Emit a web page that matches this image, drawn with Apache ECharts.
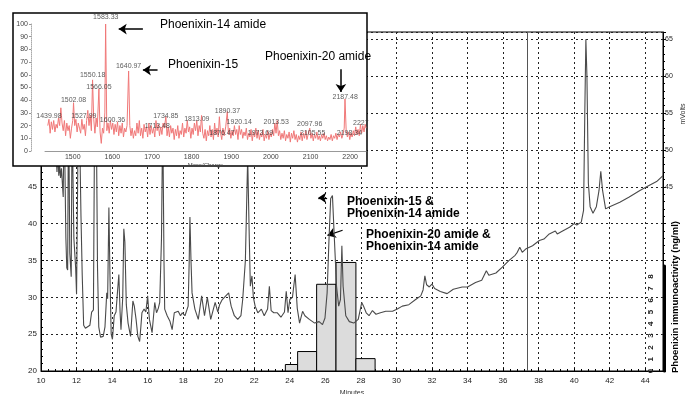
<!DOCTYPE html>
<html><head><meta charset="utf-8">
<script src="https://cdn.jsdelivr.net/npm/echarts@6/dist/echarts.min.js"></script>
<style>html,body{margin:0;padding:0;background:#fff}#c{width:688px;height:394px}</style>
</head><body><div id="c"></div>
<script>
// ---- Main chromatogram (minutes, mVolts) ----
const chromTime = [10.0,10.5,10.8,10.9,10.95,11.0,11.05,11.1,11.15,11.25,11.3,11.4,11.45,11.5,11.55,11.62,11.7,11.75,11.85,11.95,
12.0,12.08,12.15,12.25,12.32,12.4,12.5,12.6,12.75,12.85,12.95,13.02,13.1,13.18,13.25,13.35,13.5,13.6,13.7,13.75,13.82,13.88,13.95,
14.02,14.12,14.22,14.3,14.38,14.45,14.5,14.6,14.66,14.72,14.8,14.9,15.04,15.17,15.25,15.35,15.45,15.55,15.62,15.68,15.8,15.9,
16.0,16.1,16.25,16.4,16.5,16.6,16.68,16.78,16.85,16.92,16.96,17.1,17.25,17.38,17.5,17.6,17.72,17.85,17.95,18.1,18.28,18.34,18.38,
18.44,18.5,18.66,18.85,19.04,19.2,19.36,19.55,19.8,19.95,20.05,20.2,20.4,20.56,20.7,20.88,21.07,21.25,21.35,21.5,21.63,21.72,
21.78,21.87,21.95,22.05,22.2,22.4,22.56,22.75,22.85,22.95,23.1,23.3,23.5,23.7,23.8,23.9,24.0,24.15,24.3,24.42,24.55,24.72,24.85,
25.1,25.4,25.65,25.84,25.98,26.1,26.2,26.3,26.4,26.5,26.63,26.75,26.85,26.93,27.0,27.15,27.35,27.6,27.85,28.05,28.15,28.3,28.46,
28.65,28.85,29.1,29.4,29.78,30.05,30.33,30.7,31.08,31.37,31.5,31.6,31.7,31.85,32.0,32.15,32.47,32.85,33.2,33.7,34.0,34.45,34.8,
35.06,35.2,35.6,35.96,36.34,36.68,36.8,36.94,37.08,37.3,37.66,38.04,38.3,38.6,38.94,39.05,39.35,39.74,40.0,40.15,40.4,40.53,40.6,
40.66,40.72,40.8,40.9,41.06,41.25,41.4,41.5,41.6,41.77,42.0,42.57,43.1,43.7,44.08,44.64,45.0];
const chromMv = [62,58,52,47,50,46.5,48,46.2,47.5,43.6,56,38,34,33.7,58,36,32.8,55,38,34,
30.4,50,56,41,33,26.2,25.8,25.9,26.2,28,28.3,56,58,34,26,24.6,24.7,26,30.6,29.8,42.2,33,25,
24.3,27.5,28,30.6,33.1,28,25.6,30,39.3,37.5,29,26.5,24.7,29.5,28.8,27,24.7,24,26,27.9,28.4,28,
30.2,27,25.2,29.3,27.9,28.5,29.3,38,55,35,28.4,27.5,26.8,25.6,27.9,28,28.1,27.5,27.9,27.5,28.8,35,40.9,
35,30.6,28.4,27,30.2,27.5,30,27,29.3,28,29,29.7,30.2,30.6,28.8,27.5,27,27.5,29.7,35,49,38,
31.5,32.9,30,28.8,27.9,28.4,27.5,28.4,31.5,28.2,27.9,27.9,27.3,28,30.8,27.9,29.7,30,33.1,28.5,26.5,28.1,27.5,
27,26.5,26.7,26.3,27.2,30.6,37.5,43.4,43.8,38.4,31.5,28.8,29.7,37,31.5,27.5,26.7,26.5,27,29.3,28.8,27.9,27.5,
28.2,27.7,27.9,28.1,28.1,28.4,28.8,29,29.7,30.2,31,32.9,31.7,31.4,31.8,31.2,30.8,30.5,31.1,31.4,31.4,32,32.3,
33.6,33,33.3,34.1,35,35.7,36.1,36.8,36.1,36.6,37,37.7,37.9,38.6,39,38.6,39,39.5,40,39.8,40.2,41.8,55,
65,60,45.5,42.3,41.4,42.3,44.5,47.1,44.5,42,42.3,42.9,43.6,44.5,45,45.7,46.5];
const fractionMarkerTime = [37.34];

// ---- Immunoactivity fractions (ng/ml) ----
const binStart = [23.75, 24.44, 25.51, 26.6, 27.72];
const binEnd   = [24.44, 25.51, 26.6, 27.72, 28.8];
const immuno   = [0.55, 1.65, 7.35, 9.2, 1.05];
const immunoTicks = [0,1,2,3,4,5,6,7,8];

// ---- Inset mass spectrum ----
const massCharge = [1437,1440,1443,1446,1449,1452,1455,1458,1461,1464,1467,1470,1473,1476,1479,1482,1485,1488,1491,1494,1497,1500,1502,1505,1508,1511,1514,1517,1520,1523,1526,1529,1532,1535,1538,1541,1544,1547,1550,1553,1556,1559,1562,1566,1569,1572,1575,1578,1581,1583,1586,1589,1592,1595,1598,1601,1604,1607,1610,1613,1616,1619,1622,1625,1628,1631,1634,1637,1641,1644,1647,1650,1653,1656,1659,1662,1665,1668,1671,1674,1677,1680,1683,1686,1689,1692,1695,1698,1701,1704,1707,1710,1713,1716,1719,1722,1725,1728,1731,1735,1738,1741,1744,1747,1750,1753,1756,1759,1762,1765,1768,1771,1774,1777,1780,1783,1786,1789,1792,1795,1798,1801,1804,1807,1810,1813,1816,1819,1822,1825,1828,1831,1834,1837,1840,1843,1846,1849,1852,1855,1858,1861,1864,1867,1870,1873,1876,1879,1882,1886,1890,1893,1896,1899,1902,1905,1908,1911,1914,1917,1920,1923,1926,1929,1932,1935,1938,1941,1944,1947,1950,1953,1956,1959,1962,1965,1968,1971,1974,1977,1980,1983,1986,1989,1992,1995,1998,2001,2004,2007,2010,2013,2016,2019,2022,2025,2028,2031,2034,2037,2040,2043,2046,2049,2052,2055,2058,2061,2064,2067,2070,2073,2076,2079,2082,2085,2088,2091,2094,2098,2101,2104,2107,2110,2113,2116,2119,2122,2125,2128,2131,2134,2137,2140,2143,2146,2149,2152,2155,2158,2161,2164,2167,2170,2173,2176,2179,2182,2185,2187,2190,2193,2196,2199,2202,2205,2208,2211,2214,2217,2220,2223,2226,2229,2232,2235,2238,2240];
const intensity = [20,25,14,23,17,24,15,21,18,26,20,34,22,16,24,12,22,16,20,10,18,24,38,20,25,15,22,18,14,25,17,21,12,24,32,20,28,16,56,25,14,26,19,49,15,6,18,14,30,100,16,22,14,24,17,22,13,21,15,23,12,20,14,22,11,18,15,20,63,20,12,18,10,16,12,22,14,24,12,18,10,21,15,19,11,22,13,20,14,18,11,24,16,21,12,19,13,22,18,27,12,19,11,20,14,18,9,17,12,20,10,16,13,22,11,18,14,24,15,19,10,18,13,22,16,24,12,20,15,28,14,10,17,8,16,12,20,11,17,9,22,13,18,11,27,14,9,18,12,19,31,13,18,10,16,12,20,13,17,9,20,13,17,10,15,12,18,9,14,11,17,8,15,11,18,10,16,9,14,11,17,8,13,10,16,9,14,11,17,12,22,14,24,12,16,9,14,10,16,8,13,10,15,7,14,10,16,9,13,7,12,9,15,8,14,10,16,9,13,18,10,14,8,13,10,15,9,12,8,13,10,14,9,12,8,11,9,13,8,12,10,14,9,13,11,15,10,13,18,41,16,11,15,9,14,11,16,12,19,13,17,12,21,14,20,15,21,18];
const peakMass  = [1439.98,1502.08,1527.99,1550.18,1566.05,1583.33,1600.36,1640.97,1713.48,1734.85,1813.09,1876.47,1890.37,1920.14,1973.69,2013.53,2097.96,2105.55,2187.48,2198.34,2227];
const peakLabelY= [27.2,40.5,27.2,59.5,50.2,105.3,24,66.9,19.8,27.8,25.2,14.5,31.2,22.8,14.5,22.5,21.2,14,42.3,14.5,22];
const peakText  = ['1439.98','1502.08','1527.99','1550.18','1566.05','1583.33','1600.36','1640.97','1713.48','1734.85','1813.09','1876.47','1890.37','1920.14','1973.69','2013.53','2097.96','2105.55','2187.48','2198.34','2227'];
const massTicks = [1500,1600,1700,1800,1900,2000,2100,2200];

const F = '"Liberation Sans", Arial, sans-serif';
const chart = echarts.init(document.getElementById('c'));
const grid = {color:'#222', type:[2,3], width:1};
const chromData = chromTime.map((t,i)=>[t, chromMv[i]]);
const specData = massCharge.map((m,i)=>[m, intensity[i]]);
const peakData = peakMass.map((m,i)=>[m, peakLabelY[i]]);
const binData = binStart.map((s,i)=>[s, binEnd[i], immuno[i]]);

chart.setOption({
  animation:false,
  backgroundColor:'#fff',
  grid:[
    {left:41, right:25, top:32, bottom:23, show:true, borderColor:'#000', borderWidth:1, outerBoundsMode:'none', containLabel:false},
    {left:41, right:25, top:266, bottom:23, outerBoundsMode:'none', containLabel:false},
    {left:45, right:322, top:24, bottom:243, outerBoundsMode:'none', containLabel:false}
  ],
  xAxis:[
    {gridIndex:0, type:'value', min:10, max:45, interval:2, name:'Minutes', nameLocation:'middle', nameGap:16,
     nameTextStyle:{fontSize:7, fontFamily:F, color:'#333'},
     axisLine:{lineStyle:{color:'#000'}}, axisTick:{inside:true, length:3, lineStyle:{color:'#000'}},
     minorTick:{show:true, splitNumber:5, length:2, lineStyle:{color:'#000'}},
     axisLabel:{fontSize:8, fontFamily:F, color:'#222', margin:6, showMaxLabel:false},
     splitLine:{show:true, lineStyle:grid}},
    {gridIndex:1, type:'value', min:10, max:45, show:false},
    {gridIndex:2, type:'value', min:1430, max:2240, z:110, name:'Mass/Charge', nameLocation:'middle', nameGap:11,
     nameTextStyle:{fontSize:6, fontFamily:F, color:'#444'},
     axisLine:{lineStyle:{color:'#999'}}, axisTick:{show:false}, splitLine:{show:false},
     axisLabel:{customValues:massTicks, fontSize:7, fontFamily:F, color:'#444', margin:3, formatter:v=>String(v)}}
  ],
  yAxis:[
    {gridIndex:0, type:'value', min:20, max:66, interval:5,
     axisLine:{show:true, lineStyle:{color:'#000'}}, axisTick:{show:true, inside:true, length:3, lineStyle:{color:'#000'}},
     minorTick:{show:true, splitNumber:5, length:2, lineStyle:{color:'#000'}},
     axisLabel:{fontSize:8, fontFamily:F, color:'#222', margin:4, showMaxLabel:false},
     splitLine:{show:true, lineStyle:grid}},
    {gridIndex:0, type:'value', min:20, max:66, interval:5, position:'right',
     axisLine:{show:true, lineStyle:{color:'#000'}}, axisTick:{show:true, length:3, lineStyle:{color:'#000'}},
     minorTick:{show:true, splitNumber:5, length:2, lineStyle:{color:'#000'}},
     axisLabel:{fontSize:7, fontFamily:F, color:'#222', margin:2, showMaxLabel:false,
       formatter:v=> v>=45 ? String(v) : ''},
     splitLine:{show:false}},
    {gridIndex:1, type:'value', min:0, max:8.9, interval:1, position:'right', offset:1,
     axisLine:{show:true, lineStyle:{color:'#000', width:3}}, axisTick:{show:false},
     axisLabel:{inside:true, rotate:90, margin:9, fontSize:8, fontWeight:'bold', fontFamily:F, color:'#222',
       showMaxLabel:false, formatter:v=> immunoTicks.indexOf(v)>=0 ? String(v) : ''},
     splitLine:{show:false}},
    {gridIndex:2, type:'value', min:0, max:100, interval:10, offset:14, z:110,
     axisLine:{show:true, lineStyle:{color:'#aaa', type:[1,1]}}, axisTick:{show:true, length:2, lineStyle:{color:'#999'}},
     axisLabel:{fontSize:7, fontFamily:F, color:'#444', margin:3},
     splitLine:{show:false}}
  ],
  graphic:[
    {type:'rect', z:100, shape:{x:13, y:13, width:354, height:153},
     style:{fill:'#fff', stroke:'#000', lineWidth:1.5}},
    {type:'text', z:130, x:160, y:19, style:{text:'Phoenixin-14 amide', font:'12px '+F, fill:'#000'}},
    {type:'text', z:130, x:168, y:59, style:{text:'Phoenixin-15', font:'12px '+F, fill:'#000'}},
    {type:'text', z:130, x:265, y:51, style:{text:'Phoenixin-20 amide', font:'12px '+F, fill:'#000'}},
    {type:'text', z:130, x:347, y:196, style:{text:'Phoenixin-15 &\nPhoenixin-14 amide', font:'bold 12px '+F, fill:'#000', lineHeight:12}},
    {type:'text', z:130, x:366, y:229, style:{text:'Phoenixin-20 amide &\nPhoenixin-14 amide', font:'bold 12px '+F, fill:'#000', lineHeight:12}},
    {type:'text', z:130, x:675, y:297, rotation:Math.PI/2,
     style:{text:'Phoenixin immunoactivity (ng/ml)', font:'bold 9.5px '+F, fill:'#000', align:'center', verticalAlign:'middle'}},
    {type:'text', z:130, x:683, y:114, rotation:Math.PI/2,
     style:{text:'mVolts', font:'7px '+F, fill:'#333', align:'center', verticalAlign:'middle'}}
  ],
  series:[
    {type:'custom', xAxisIndex:1, yAxisIndex:2, z:1, data:binData, encode:{x:[0,1], y:2},
     renderItem:(params, api)=>{
       const a = api.coord([api.value(0), 0]);
       const b = api.coord([api.value(1), api.value(2)]);
       return {type:'rect', shape:{x:a[0], y:b[1], width:b[0]-a[0], height:a[1]-b[1]},
               style:{fill:'#dcdcdc', stroke:'#000', lineWidth:1}};
     }},
    {type:'line', xAxisIndex:0, yAxisIndex:0, z:5, data:chromData, showSymbol:false, symbol:'none',
     lineStyle:{color:'#4a4a4a', width:1.1},
     markLine:{silent:true, symbol:['none','arrow'], symbolSize:8, label:{show:false},
       lineStyle:{color:'#000', width:1.3, type:'solid'},
       data:[
         [{coord:[fractionMarkerTime[0],20], symbol:'none', lineStyle:{color:'#555', width:1}},
          {coord:[fractionMarkerTime[0],66], symbol:'none'}],
         [{coord:[26.1,43.5]},{coord:[25.6,43.5]}],
         [{coord:[26.97,39.1]},{coord:[26.12,38.4]}]
       ]}},
    {type:'line', xAxisIndex:2, yAxisIndex:3, z:110, data:specData, showSymbol:false, symbol:'none',
     lineStyle:{color:'#f07878', width:1},
     markLine:{silent:true, z:120, symbol:['none','arrow'], symbolSize:8, label:{show:false},
       lineStyle:{color:'#000', width:1.5, type:'solid'},
       data:[
         [{coord:[1677,96]},{coord:[1616,96]}],
         [{coord:[1714,63.7]},{coord:[1677,63.7]}],
         [{coord:[2176.6,64.3]},{coord:[2176.6,46.5]}]
       ]}},
    {type:'scatter', xAxisIndex:2, yAxisIndex:3, z:115, clip:false, symbolSize:0, data:peakData,
     label:{show:true, position:'inside', fontSize:7, fontFamily:F, color:'#333',
       formatter:p=>peakText[p.dataIndex]}}
  ]
});
</script></body></html>
